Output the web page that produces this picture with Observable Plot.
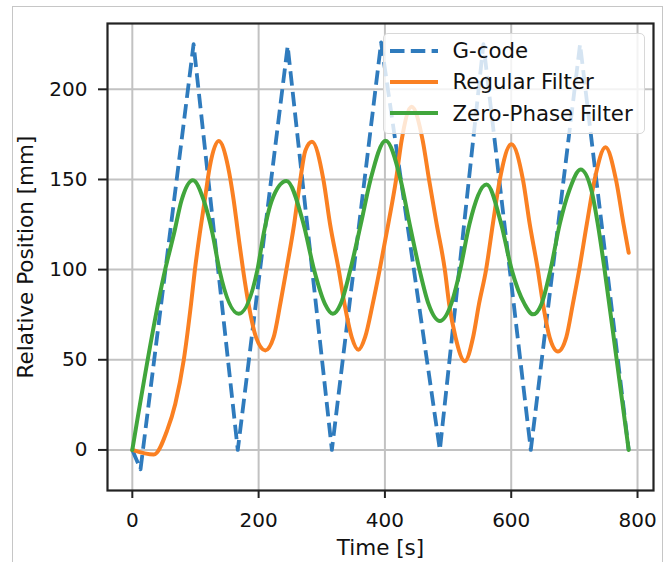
<!DOCTYPE html>
<html>
<head>
<meta charset="utf-8">
<script src="https://cdn.jsdelivr.net/npm/d3@7"></script>
<script src="https://cdn.jsdelivr.net/npm/@observablehq/plot@0.6"></script>
<style>
  html, body { margin: 0; padding: 0; background: #fff; }
  body { font-family: "DejaVu Sans", sans-serif; }
  #wrap { position: relative; width: 668px; height: 562px; overflow: hidden; }
  #border { position: absolute; left: 12px; top: 6px; width: 651px; height: 620px;
            border: 1.5px solid #c6c6c6; box-sizing: border-box; }
  #chart { position: absolute; left: 0; top: 0; }
  #legend { position: absolute; left: 383px; top: 33px; width: 262px; height: 101px;
            background: rgba(255,255,255,0.8); border: 1.5px solid #d8d8d8; border-radius: 5px;
            box-sizing: border-box; padding-top: 1px; }
  .row { display: flex; align-items: center; height: 31.3px; }
  .row svg { margin-left: 5.5px; flex: none; }
  .row span { margin-left: 15px; font-size: 21.3px; color: #111; white-space: nowrap; }
</style>
</head>
<body>
<div id="wrap">
  <div id="border"></div>
  <div id="chart"></div>
  <div id="legend"></div>
</div>
<script>
// ---- data ----
const seriesNames = ["G-code", "Regular Filter", "Zero-Phase Filter"];

const gcodeTime = [0, 13, 97, 167, 246, 316, 394, 487, 556, 631, 709, 786];
const gcodePos  = [0, -10.7, 225, 0, 224, 0, 226, 0, 225, 0, 225, 0];

const regularTime = [0, 34, 55, 68, 81.5, 93, 99, 106.8, 114.7, 122.6, 136.8,
  151.6, 160.5, 167.5, 175.5, 184, 196, 210.6, 223.7, 234.3, 243.8, 256.4, 265.9, 274, 284.4,
  302.7, 313, 327, 336, 347.5, 358, 368.6, 380.7, 391.5, 405.4, 417.5, 426.5, 442.3,
  459.7, 470, 481.8, 495, 501.7, 511.8, 526.5, 539.6, 549, 560, 571, 581.8, 600.3,
  618.7, 629.2, 642.3, 650.3, 660.8, 674, 687.2, 697.6, 707.5, 719.8, 731.9, 749.3,
  766, 777.7, 786];
const regularPos = [0, -2.6, 10.7, 25.5, 50, 81, 99.6, 120, 138.5, 157, 171.3,
  157, 138.5, 120, 99.6, 81, 62.4, 55.2, 62.4, 81, 99.6, 125.5, 149.6, 166, 170.9,
  149.6, 125.5, 99.6, 81, 62.5, 55.5, 62.5, 81, 99.6, 125.5, 149.6, 171.8, 190.3,
  171.8, 149.6, 125.5, 99.6, 81, 62.5, 49.2, 62.5, 81, 99.6, 125.5, 149.6, 169.6,
  149.6, 125.5, 99.6, 81, 62.5, 54.6, 62.5, 81, 99.6, 125.5, 149.6, 167.8,
  149.6, 125.5, 109.4];

const zeroTime = [0, 52, 66, 78, 96, 113, 127, 138, 168.5, 198, 208, 221, 244,
  271, 288, 305, 317.5, 330, 345, 362, 377, 401, 425, 439, 455, 469, 487,
  505, 519, 534, 561, 584, 601, 621, 634.5, 648, 662, 677, 692, 710,
  727, 737, 748, 767, 786];
const zeroPos = [0, 100, 120, 138.5, 149.6, 138.5, 120, 99.7, 75.5, 99.7, 120, 138.5, 149.2,
  125.5, 99.6, 81, 75.5, 81, 99.6, 125.5, 149.6, 171.5, 149.6, 125.5, 99.6, 81, 71.5,
  81, 99.6, 125.5, 147.2, 125.5, 99.6, 81, 75.2, 81, 99.6, 125.5, 144, 155.5,
  144, 125.5, 99.6, 50, 0];

const xTicks = [0, 200, 400, 600, 800];
const yTicks = [0, 50, 100, 150, 200];

const colors = ["#2f7bbd", "#fa8022", "#41a63c"];

// ---- build tables ----
const rows = (t, v) => t.map((x, i) => ({t: x, v: v[i]}));
const gcode = rows(gcodeTime, gcodePos);
const regular = rows(regularTime, regularPos);
const zero = rows(zeroTime, zeroPos);

const chart = Plot.plot({
  width: 668,
  height: 562,
  marginLeft: 107,
  marginRight: 15,
  marginTop: 23,
  marginBottom: 72,
  style: {fontFamily: "DejaVu Sans", fontSize: "20px", color: "#111", background: "transparent", overflow: "visible"},
  x: {domain: [-39.3, 825.3]},
  y: {domain: [-22.5, 236.5]},
  marks: [
    Plot.gridX(xTicks, {stroke: "#c2c2c2", strokeOpacity: 1, strokeWidth: 2}),
    Plot.gridY(yTicks, {stroke: "#c2c2c2", strokeOpacity: 1, strokeWidth: 2}),
    Plot.line(gcode, {x: "t", y: "v", stroke: colors[0], strokeWidth: 3.8,
      strokeDasharray: "14.5,6.3", strokeLinecap: "butt", strokeLinejoin: "round"}),
    Plot.line(regular, {x: "t", y: "v", stroke: colors[1], strokeWidth: 4, curve: "monotone-x"}),
    Plot.line(zero, {x: "t", y: "v", stroke: colors[2], strokeWidth: 4, curve: "monotone-x"}),
    Plot.frame({stroke: "#222", strokeWidth: 2.2}),
    Plot.axisX(xTicks, {tickSize: 8, tickPadding: 14, stroke: "#222", strokeWidth: 2,
      tickFormat: d => String(d), label: null}),
    Plot.axisY(yTicks, {tickSize: 9, tickPadding: 11, stroke: "#222", strokeWidth: 2,
      tickFormat: d => String(d), label: null}),
    Plot.axisX([], {tickSize: 0, fontSize: 21.5, label: "Time [s]", labelAnchor: "center",
      labelOffset: 64, labelArrow: "none"}),
    Plot.axisY([], {tickSize: 0, fontSize: 21.5, label: "Relative Position [mm]", labelAnchor: "center",
      labelOffset: 90, labelArrow: "none"})
  ]
});
document.getElementById("chart").appendChild(chart);

// ---- legend ----
const legend = document.getElementById("legend");
seriesNames.forEach((name, i) => {
  const row = document.createElement("div");
  row.className = "row";
  const dash = i === 0 ? ' stroke-dasharray="14.5,6.3"' : '';
  row.innerHTML = `<svg width="48" height="10"><line x1="0" y1="5" x2="48" y2="5" stroke="${colors[i]}" stroke-width="4"${dash}/></svg><span>${name}</span>`;
  legend.appendChild(row);
});
</script>
</body>
</html>
